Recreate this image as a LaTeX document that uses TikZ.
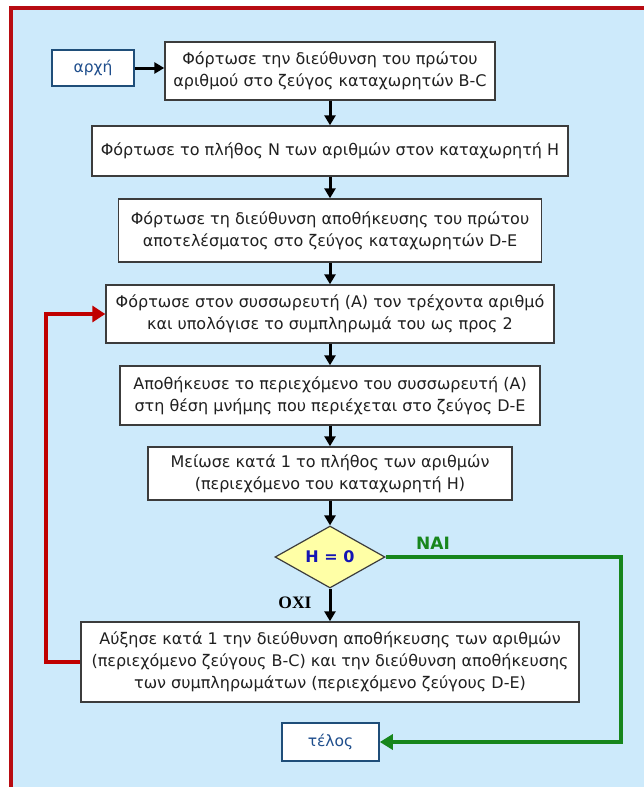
\documentclass[tikz,border=0pt]{standalone}
\usepackage{fontspec}
\setmainfont{DejaVu Sans}
\newfontfamily\serifgr{Liberation Serif}
\usetikzlibrary{arrows.meta,shapes.geometric}
\definecolor{bgblue}{HTML}{CDEAFB}
\definecolor{framered}{HTML}{B80C12}
\definecolor{loopred}{HTML}{C00000}
\definecolor{okgreen}{HTML}{17861C}
\definecolor{boxline}{HTML}{3C3C3C}
\definecolor{txt}{HTML}{202020}
\definecolor{termline}{HTML}{1F4E79}
\definecolor{termtxt}{HTML}{1F4E8C}
\definecolor{diafill}{HTML}{FFFFA6}
\definecolor{hblue}{HTML}{1414B4}
\begin{document}
\begin{tikzpicture}[x=1pt,y=-1pt,
  box/.style={draw=boxline, fill=white, line width=1.4pt, align=center,
    font=\fontsize{16}{22}\selectfont, text=txt, inner sep=0pt},
  term/.style={draw=termline, fill=white, line width=1.6pt,
    font=\fontsize{15.5}{18}\selectfont, text=termtxt, inner sep=0pt},
  flow/.style={draw=black, line width=3pt, -{Triangle[length=10pt,width=11pt]}},
  loopline/.style={draw=loopred, line width=4.5pt, -{Triangle[length=13pt,width=16pt]}},
  yesline/.style={draw=okgreen, line width=4pt, -{Triangle[length=13pt,width=15pt]}},
]
\useasboundingbox (0,0) rectangle (644,787);
\fill[bgblue] (11,8) rectangle (644,787);
\draw[framered, line width=4.5pt] (11,787) -- (11,8) -- (644,8);

\node[term, minimum width=82pt, minimum height=36pt] (start) at (93,68) {αρχή};
\node[box, minimum width=330pt, minimum height=58pt] (b1) at (330,71)
  {Φόρτωσε την διεύθυνση του πρώτου\\αριθμού στο ζεύγος καταχωρητών B-C};
\node[box, minimum width=476pt, minimum height=50pt] (b2) at (330,151)
  {Φόρτωσε το πλήθος N των αριθμών στον καταχωρητή H};
\node[box, minimum width=423pt, minimum height=63pt] (b3) at (330,230.5)
  {Φόρτωσε τη διεύθυνση αποθήκευσης του πρώτου\\αποτελέσματος στο ζεύγος καταχωρητών D-E};
\node[box, minimum width=448pt, minimum height=58pt] (b4) at (330,314)
  {Φόρτωσε στον συσσωρευτή (A) τον τρέχοντα αριθμό\\και υπολόγισε το συμπληρωμά του ως προς 2};
\node[box, minimum width=420pt, minimum height=59pt] (b5) at (330,395.5)
  {Αποθήκευσε το περιεχόμενο του συσσωρευτή (A)\\στη θέση μνήμης που περιέχεται στο ζεύγος D-E};
\node[box, minimum width=364pt, minimum height=53pt] (b6) at (330,473.5)
  {Μείωσε κατά 1 το πλήθος των αριθμών\\(περιεχόμενο του καταχωρητή H)};
\node[diamond, draw=boxline, fill=diafill, line width=1.2pt, inner sep=0pt,
  aspect=1.77, minimum width=110pt, minimum height=62pt,
  font=\bfseries\fontsize{16}{18}\selectfont, text=hblue] (dia) at (330,557) {H = 0};
\node[box, minimum width=498pt, minimum height=80pt] (b7) at (330,662)
  {Αύξησε κατά 1 την διεύθυνση αποθήκευσης των αριθμών\\(περιεχόμενο ζεύγους B-C) και την διεύθυνση αποθήκευσης\\των συμπληρωμάτων (περιεχόμενο ζεύγους D-E)};
\node[term, minimum width=97pt, minimum height=38pt] (end) at (330.5,742) {τέλος};

\node[font=\bfseries\fontsize{17}{19}\selectfont, text=okgreen] (yes) at (433,543) {ΝΑΙ};
\node[font=\serifgr\bfseries\fontsize{17.5}{19}\selectfont, text=black] (no) at (295,603) {ΟΧΙ};

\draw[flow] (start.east) -- (start.east -| b1.west);
\draw[flow] (b1.south) -- (b1.south |- b2.north);
\draw[flow] (b2.south) -- (b2.south |- b3.north);
\draw[flow] (b3.south) -- (b3.south |- b4.north);
\draw[flow] (b4.south) -- (b4.south |- b5.north);
\draw[flow] (b5.south) -- (b5.south |- b6.north);
\draw[flow] (b6.south) -- (b6.south |- dia.north);
\draw[flow] (dia.south) -- (dia.south |- b7.north);

\coordinate (lc) at (46,662);
\draw[loopline] (b7.west) -- (lc) |- (b4.west);
\coordinate (gc) at (621,557);
\draw[yesline] (dia.east) -- (gc) |- (end.east);
\end{tikzpicture}
\end{document}
